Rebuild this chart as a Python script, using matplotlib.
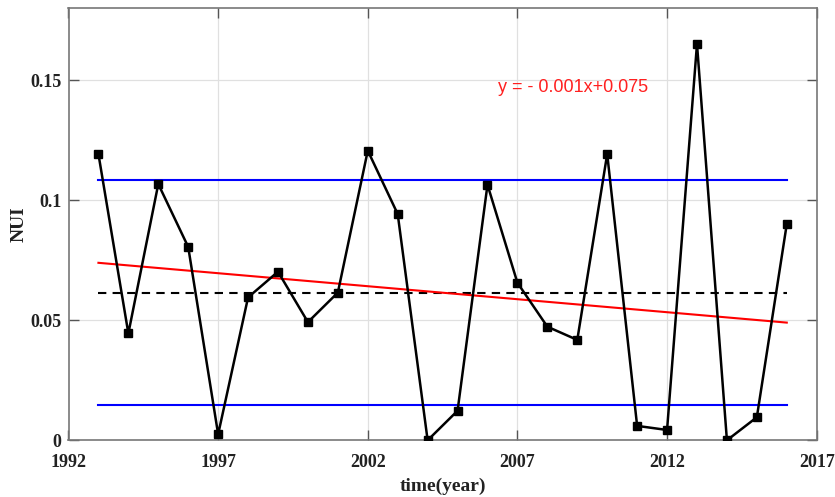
import matplotlib
matplotlib.use("Agg")
import matplotlib.pyplot as plt
import numpy as np

years = list(range(1993, 2017))
nui = [0.1192, 0.0445, 0.1067, 0.0805, 0.0025, 0.0595, 0.0702, 0.0492, 0.0615,
       0.1206, 0.0942, 0.0000, 0.0123, 0.1064, 0.0656, 0.0473, 0.0418, 0.1192,
       0.0060, 0.0043, 0.1650, 0.0000, 0.0096, 0.0900]
mean_val = 0.0615
upper_val = 0.1084
lower_val = 0.0146
trend_start = 0.0739
trend_end = 0.0490
xticks = [1992, 1997, 2002, 2007, 2012, 2017]
yticks = [0, 0.05, 0.1, 0.15]
ytick_labels = ["0", "0.05", "0.1", "0.15"]

fig = plt.figure(figsize=(8.35, 4.97), dpi=100)
ax = fig.add_axes([68.5/835, 1-440.3/497, (816.7-68.5)/835, (440.3-7.5)/497])

x0, x1 = years[0], years[-1]
ax.plot([x0, x1], [upper_val, upper_val], color='#0000ff', lw=1.5, zorder=3)
ax.plot([x0, x1], [lower_val, lower_val], color='#0000ff', lw=1.5, zorder=3)
ax.plot([x0, x1], [mean_val, mean_val], color='black', lw=1.5, ls=(0, (4, 3)), zorder=3)
ax.plot([x0, x1], [trend_start, trend_end], color='#ff0000', lw=1.5, zorder=3)
ax.plot(years, nui, color='black', lw=1.8, marker='s', ms=5.5, zorder=4)

ax.text(2006.35, 0.147, "y = - 0.001x+0.075", color='#ff2020', fontsize=13,
        family='Liberation Sans', va='center', ha='left')

ax.set_xlim(1992, 2017)
ax.set_ylim(0, 0.1802)
ax.set_xticks(xticks)
ax.set_yticks(yticks)
ax.set_yticklabels(ytick_labels)
ax.grid(True, color='#e0e0e0', lw=0.9)
ax.set_axisbelow(True)
ax.tick_params(direction='in', length=7, width=1, top=True, right=True,
               color='#555555', labelsize=13)
ax.tick_params(axis='x', pad=10)
ax.tick_params(axis='y', pad=5)
for lab in ax.get_xticklabels() + ax.get_yticklabels():
    lab.set_family('Liberation Serif')
    lab.set_fontweight('bold')
    lab.set_color('#222222')
for s in ax.spines.values():
    s.set_color('#777777')
    s.set_linewidth(1.2)

ax.set_xlabel("time(year)", family='Liberation Serif', fontweight='bold', fontsize=14, labelpad=5, color='#222222')
ax.set_ylabel("NUI", family='Liberation Serif', fontweight='bold', fontsize=14, labelpad=2, color='#222222')

fig.savefig("out.png", dpi=100)
